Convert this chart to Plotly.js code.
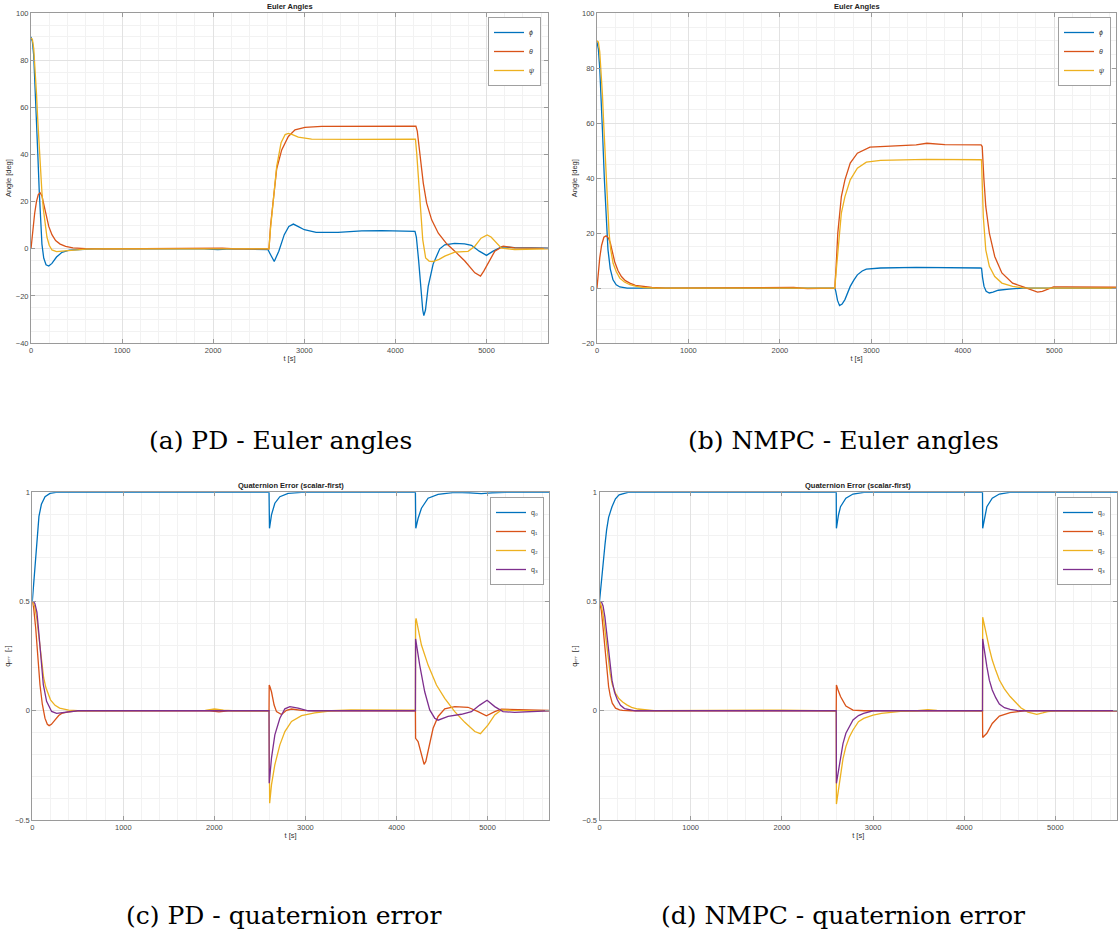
<!DOCTYPE html>
<html><head><meta charset="utf-8">
<script src="https://cdn.plot.ly/plotly-3.0.1.min.js"></script>
<style>html,body{margin:0;padding:0;background:#fff}#chart{width:1120px;height:938px}</style>
</head><body><div id="chart"></div>
<script>
// ---------- (a) PD - Euler angles ----------
const phiA_t = [0,15,30,45,60,75,90,105,120,140,165,195,230,280,340,420,550,700,1900,2050,2200,2600,2630,2670,2720,2780,2830,2880,2940,3000,3130,3370,3630,3850,4215,4230,4255,4280,4300,4312,4330,4360,4414,4487,4542,4650,4760,4835,4920,5000,5073,5164,5310,5675];
const phiA   = [90,88,82,70,55,40,25,12,2,-4,-6.8,-7.3,-6.2,-3.5,-1.5,-0.6,-0.2,0,0,-0.3,0,-0.3,-2.5,-5.4,-1,6,9.5,10.5,9.3,8.1,7.0,7.0,7.6,7.7,7.4,5,-5,-18,-26,-28.4,-26,-16,-6.5,0,1.7,2.3,2.1,1.5,-1,-2.8,-1,0.8,0.5,0.3];
const thetaA_t = [0,20,40,60,80,100,120,140,165,195,230,270,320,380,460,600,800,1900,2000,2100,2250,2612,2630,2660,2697,2752,2825,2898,3007,3190,3556,3800,4225,4240,4270,4306,4343,4398,4471,4563,4652,4762,4872,4934,4970,5018,5091,5182,5310,5675];
const thetaA   = [0,8,15,20,23,23.8,22.5,19,14,9.5,6,3.5,2,1,0.4,0.1,0,0.3,0.5,0.3,0,0,10,22,34,42,47.7,50.5,51.6,52,52,52.2,52.1,50,40.6,27.9,19.4,12.3,6.6,2.1,-1,-5.2,-10.2,-11.6,-9.5,-5.9,-1,1.1,0.4,0.2];
const psiA_t = [0,15,30,45,60,75,90,105,120,135,155,175,200,230,280,350,450,600,800,2612,2630,2660,2697,2745,2790,2825,2870,2934,3080,3556,4220,4235,4270,4300,4332,4370,4414,4480,4542,4652,4798,4872,4940,5007,5050,5091,5164,5310,5675];
const psiA   = [89.5,89,85,77,66,54,43,33,24,17,10,5,1.5,-0.5,-1.2,-1,-0.4,-0.1,0,0,9,21,35,45,48.5,49,48.5,47.4,46.6,46.5,46.6,40,20.8,3.9,-3.9,-5.2,-5.4,-4.5,-3.1,-1.4,-1.1,1.1,4.5,5.9,5,3.3,0.3,-0.3,0];

// ---------- (b) NMPC - Euler angles ----------
const phiB_t = [0,15,30,45,60,80,100,120,145,175,210,250,330,2600,2610,2630,2652,2680,2711,2740,2769,2810,2847,2900,2945,3100,3490,4193,4205,4215,4232,4255,4290,4330,4388,4505,4661,5675];
const phiB   = [89.5,87,80,70,57,40,25,14,7,3,1.2,0.4,0,0,-1,-4.5,-6.4,-5.8,-4.2,-2,0.6,3,4.8,6.2,6.9,7.3,7.5,7.3,7.2,4,0.6,-1.2,-1.8,-1.5,-0.8,-0.4,0,0];
const thetaB_t = [0,15,30,50,75,100,125,146,170,194,230,267,310,359,420,505,600,750,1700,2000,2150,2300,2450,2600,2615,2633,2672,2711,2769,2847,2984,3296,3490,3607,3803,4200,4212,4230,4251,4290,4349,4427,4544,4661,4740,4817,4870,4914,4992,5129,5675];
const thetaB   = [0,6,11,15.5,18.5,19,18.2,16.4,13,9.5,6.3,4.2,2.7,1.8,1.0,0.5,0.2,0,0.1,0.4,0.2,-0.2,-0.2,0,8,20,33.3,39.4,45.5,49.1,51.3,51.8,52.1,52.7,52.2,52.1,51.5,40,29.7,20,11.5,5.5,1.8,0.4,-0.5,-1.5,-1.2,-0.6,0.4,0.4,0.3];
const psiB_t = [0,15,30,44,60,73,90,102,118,132,150,176,210,249,300,359,430,505,650,2600,2615,2633,2672,2711,2769,2847,2945,3100,3600,4204,4212,4224,4251,4290,4349,4427,4544,4661,4800,5675];
const psiB   = [90,89.5,86,80,70,60,48,40,30,20,14,9,6,3.6,2.2,1.2,0.6,0.2,0,0,6,12.7,27.3,33.3,39.4,43.6,45.8,46.5,46.8,46.7,40,26,13.9,7.9,4.2,1.8,0.6,0.1,0,0];

// ---------- (c) PD - quaternion error ----------
const q0C_t = [0,15,30,50,73,100,140,194,260,2600,2605,2627,2664,2719,2810,2957,4208,4212,4237,4274,4347,4457,4640,4800,4930,5050,5200,5675];
const q0C   = [0.5,0.58,0.67,0.8,0.89,0.945,0.98,0.995,1,1,0.835,0.897,0.95,0.98,0.995,1,1,0.835,0.88,0.927,0.973,0.99,1,0.998,0.994,0.998,1,1];
const q1C_t = [0,15,37,59,84,110,139,165,185,210,249,290,322,395,500,1950,2050,2150,2600,2602,2610,2627,2656,2682,2737,2792,2847,2957,3100,4208,4210,4237,4266,4285,4303,4322,4347,4402,4457,4530,4640,4786,4896,4987,5079,5152,5675];
const q1C   = [0.5,0.47,0.38,0.24,0.12,0.03,-0.034,-0.062,-0.068,-0.062,-0.041,-0.022,-0.012,-0.005,0,0,-0.005,0,0,0.118,0.11,0.087,0.026,-0.004,-0.017,0.002,0.008,0.002,0,0,-0.126,-0.141,-0.187,-0.228,-0.245,-0.232,-0.187,-0.08,-0.026,0.009,0.019,0.016,-0.004,-0.023,-0.004,0.007,0.002];
const q2C_t = [0,25,50,75,100,125,150,200,250,300,400,500,1900,2000,2100,2200,2600,2602,2607,2627,2664,2719,2774,2847,2957,3103,3286,3500,4100,4208,4210,4215,4274,4347,4439,4530,4640,4750,4860,4922,5006,5079,5152,5262,5675];
const q2C   = [0.5,0.48,0.42,0.32,0.22,0.15,0.105,0.05,0.025,0.012,0.003,0,0.002,0.008,0.003,0,0,-0.36,-0.423,-0.339,-0.247,-0.156,-0.095,-0.049,-0.022,-0.01,0,0.004,0.004,0.003,0.41,0.423,0.301,0.209,0.118,0.057,-0.004,-0.053,-0.095,-0.105,-0.065,-0.019,0.004,0.002,0];
const q3C_t = [0,15,29,51,73,95,121,157,212,267,359,500,2600,2602,2627,2664,2719,2774,2829,2920,3030,4208,4210,4255,4310,4365,4420,4457,4567,4713,4823,4914,4995,5079,5170,5298,5675];
const q3C   = [0.5,0.5,0.49,0.45,0.35,0.225,0.12,0.043,-0.003,-0.012,-0.006,0,0,-0.332,-0.217,-0.11,-0.034,0.009,0.019,0.012,0,0,0.329,0.209,0.087,0.004,-0.034,-0.043,-0.026,-0.016,-0.004,0.026,0.048,0.019,-0.004,-0.007,0];

// ---------- (d) NMPC - quaternion error ----------
const q0D_t = [0,20,39,60,78,100,137,175,215,313,2596,2598,2620,2643,2702,2780,2900,4200,4202,4225,4248,4307,4385,4500,5675];
const q0D   = [0.5,0.6,0.675,0.76,0.828,0.885,0.934,0.97,0.988,1,1,0.835,0.895,0.934,0.973,0.992,1,1,0.835,0.895,0.934,0.973,0.992,1,1];
const q1D_t = [0,20,39,60,78,100,117,140,176,220,254,350,2596,2598,2620,2643,2702,2780,2900,4200,4202,4248,4307,4385,4503,4659,5675];
const q1D   = [0.5,0.46,0.38,0.28,0.19,0.11,0.07,0.035,0.012,0.004,0.002,0,0,0.118,0.09,0.065,0.022,0.003,0,0,-0.122,-0.103,-0.058,-0.024,-0.009,0,0];
const q2D_t = [0,20,39,60,78,100,117,140,176,215,254,300,352,420,509,600,2000,2596,2598,2620,2643,2670,2702,2740,2780,2840,2897,3000,3093,3300,3485,3600,3700,4200,4202,4225,4248,4275,4307,4345,4385,4440,4503,4560,4620,4698,4796,4860,4914,5000,5675];
const q2D   = [0.5,0.48,0.44,0.37,0.3,0.22,0.17,0.12,0.08,0.055,0.04,0.027,0.016,0.008,0.003,0,0.003,0,-0.427,-0.36,-0.286,-0.22,-0.164,-0.12,-0.088,-0.05,-0.035,-0.02,-0.012,-0.003,0,0.005,0.002,0,0.428,0.39,0.339,0.285,0.232,0.185,0.141,0.1,0.065,0.04,0.014,-0.006,-0.016,-0.01,-0.004,0,0];
const q3D_t = [0,20,39,59,78,98,117,137,165,196,230,274,392,2596,2598,2620,2643,2670,2702,2740,2780,2840,2897,3000,4200,4202,4225,4248,4275,4307,4345,4385,4440,4503,4600,5675];
const q3D   = [0.5,0.5,0.48,0.43,0.36,0.28,0.2,0.14,0.085,0.05,0.025,0.01,0,0,-0.332,-0.27,-0.21,-0.15,-0.103,-0.07,-0.042,-0.022,-0.012,0,0,0.329,0.26,0.202,0.14,0.095,0.06,0.031,0.014,0.006,0,0];

const eulerNames = ['ϕ', 'θ', 'ψ'];
const quatNames = ['q₀', 'q₁', 'q₂', 'q₃'];
const colors = ['#0072BD', '#D95319', '#EDB120', '#7E2F8E'];

function tr(t, y, name, color, n, leg) {
  return {type: 'scatter', mode: 'lines', x: t, y: y, name: name,
    line: {color: color, width: 1.3},
    xaxis: 'x' + (n === 1 ? '' : n), yaxis: 'y' + (n === 1 ? '' : n), legend: leg};
}

const traces = [
  tr(phiA_t, phiA, eulerNames[0], colors[0], 1, 'legend'),
  tr(thetaA_t, thetaA, eulerNames[1], colors[1], 1, 'legend'),
  tr(psiA_t, psiA, eulerNames[2], colors[2], 1, 'legend'),
  tr(phiB_t, phiB, eulerNames[0], colors[0], 2, 'legend2'),
  tr(thetaB_t, thetaB, eulerNames[1], colors[1], 2, 'legend2'),
  tr(psiB_t, psiB, eulerNames[2], colors[2], 2, 'legend2'),
  tr(q0C_t, q0C, quatNames[0], colors[0], 3, 'legend3'),
  tr(q1C_t, q1C, quatNames[1], colors[1], 3, 'legend3'),
  tr(q2C_t, q2C, quatNames[2], colors[2], 3, 'legend3'),
  tr(q3C_t, q3C, quatNames[3], colors[3], 3, 'legend3'),
  tr(q0D_t, q0D, quatNames[0], colors[0], 4, 'legend4'),
  tr(q1D_t, q1D, quatNames[1], colors[1], 4, 'legend4'),
  tr(q2D_t, q2D, quatNames[2], colors[2], 4, 'legend4'),
  tr(q3D_t, q3D, quatNames[3], colors[3], 4, 'legend4')
];

const W = 1120, H = 938;
const sans = 'Liberation Sans, DejaVu Sans, Arial, sans-serif';
const tickFont = {family: sans, size: 7.5, color: '#4a4a4a'};
const axColor = '#9a9a9a';

function xax(l, r, anchor) {
  return {domain: [l / W, r / W], anchor: anchor, range: [0, 5675], dtick: 1000, tick0: 0,
    showline: true, linecolor: axColor, linewidth: 1, mirror: 'allticks', ticks: 'inside', ticklen: 4,
    tickcolor: axColor, zeroline: false, showgrid: true, gridcolor: '#e2e2e2', gridwidth: 1,
    minor: {dtick: 200, showgrid: true, gridcolor: '#f2f2f2', gridwidth: 1},
    tickfont: tickFont,
    title: {text: 't [s]', font: {family: sans, size: 7.5, color: '#333'}, standoff: 1}};
}
function yax(top, bot, anchor, range, dt, mdt, label) {
  return {domain: [1 - bot / H, 1 - top / H], anchor: anchor, range: range, dtick: dt, tick0: 0,
    showline: true, linecolor: axColor, linewidth: 1, mirror: 'allticks', ticks: 'inside', ticklen: 4,
    tickcolor: axColor, zeroline: false, showgrid: true, gridcolor: '#e2e2e2', gridwidth: 1,
    minor: {dtick: mdt, showgrid: true, gridcolor: '#f2f2f2', gridwidth: 1},
    tickfont: tickFont,
    title: {text: label, font: {family: sans, size: 7.5, color: '#333'}, standoff: 3}};
}
function leg(right, top, italic) {
  return {x: right / W, y: 1 - top / H, xanchor: 'right', yanchor: 'top', bgcolor: '#ffffff',
    bordercolor: '#a0a0a0', borderwidth: 1,
    font: {family: sans, size: 7, color: '#333', style: italic ? 'italic' : 'normal'},
    itemwidth: 30, tracegroupgap: 0};
}
function titleAnn(n, text) {
  const s = n === 1 ? '' : n;
  return {xref: 'x' + s + ' domain', yref: 'y' + s + ' domain', x: 0.5, y: 1, yanchor: 'bottom', yshift: 0,
    showarrow: false, text: text, font: {family: sans, size: 7.5, color: '#222', weight: 'bold'}};
}
function caption(cx, cy, text) {
  return {xref: 'paper', yref: 'paper', x: cx / W, y: 1 - cy / H, xanchor: 'center', yanchor: 'middle',
    showarrow: false, text: text, font: {family: 'DejaVu Serif, Liberation Serif, serif', size: 25, color: '#000'}};
}

const layout = {
  width: W, height: H, margin: {l: 0, r: 0, t: 0, b: 0}, paper_bgcolor: '#fff', plot_bgcolor: '#fff',
  showlegend: true,
  xaxis: xax(31, 548, 'y'),
  yaxis: yax(13.3, 343, 'x', [-40, 100], 20, 5, 'Angle [deg]'),
  xaxis2: xax(597, 1116, 'y2'),
  yaxis2: yax(13.3, 343, 'x2', [-20, 100], 20, 5, 'Angle [deg]'),
  xaxis3: xax(32.3, 549, 'y3'),
  yaxis3: yax(492.3, 820, 'x3', [-0.5, 1], 0.5, 0.1, 'qₑᵣᵣ  [-]'),
  xaxis4: xax(599.5, 1117, 'y4'),
  yaxis4: yax(492.3, 820, 'x4', [-0.5, 1], 0.5, 0.1, 'qₑᵣᵣ  [-]'),
  legend: leg(541, 17, true),
  legend2: leg(1111, 17, true),
  legend3: leg(544, 497, false),
  legend4: leg(1111, 497, false),
  annotations: [
    titleAnn(1, 'Euler Angles'), titleAnn(2, 'Euler Angles'),
    titleAnn(3, 'Quaternion Error (scalar-first)'), titleAnn(4, 'Quaternion Error (scalar-first)'),
    caption(280, 440, '(a) PD - Euler angles'),
    caption(843, 440, '(b) NMPC - Euler angles'),
    caption(283, 915, '(c) PD - quaternion error'),
    caption(843, 915, '(d) NMPC - quaternion error')
  ]
};

Plotly.newPlot('chart', traces, layout, {staticPlot: true, displayModeBar: false});
</script></body></html>
